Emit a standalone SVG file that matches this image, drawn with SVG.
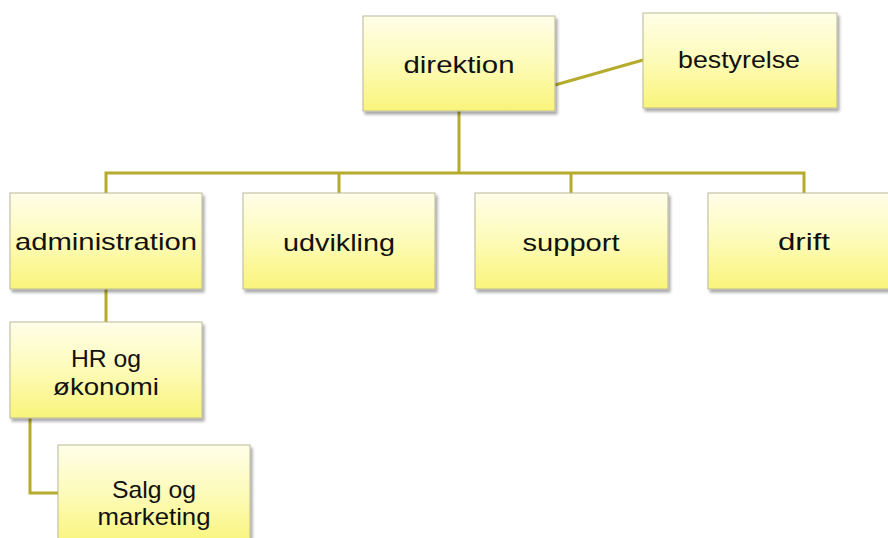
<svg xmlns="http://www.w3.org/2000/svg" width="888" height="538" viewBox="0 0 888 538">
<defs>
<linearGradient id="g" x1="0" y1="0" x2="0" y2="1">
<stop offset="0" stop-color="#fffee8"/>
<stop offset="0.5" stop-color="#fdfbb8"/>
<stop offset="1" stop-color="#f9f47a"/>
</linearGradient>
<filter id="sh" x="-10%" y="-10%" width="130%" height="130%">
<feGaussianBlur in="SourceAlpha" stdDeviation="1.5"/>
<feOffset dx="1.5" dy="2.5" result="b"/>
<feComponentTransfer><feFuncA type="linear" slope="0.35"/></feComponentTransfer>
<feMerge><feMergeNode/><feMergeNode in="SourceGraphic"/></feMerge>
</filter>
<style>
.box{fill:url(#g);stroke:#b9b79a;stroke-width:1;filter:url(#sh)}
.t{font-family:"Liberation Sans",Arial,sans-serif;font-size:24px;fill:#111;text-anchor:middle}
.c{fill:none;stroke:#b5ab2c;stroke-width:3}
</style>
</defs>
<rect width="888" height="538" fill="#fff"/>
<g id="connectors">
<line class="c" x1="555" y1="85" x2="643" y2="60"/>
<polyline class="c" points="459,111 459,173"/>
<polyline class="c" points="106,193 106,173 804,173 804,193"/>
<line class="c" x1="339" y1="173" x2="339" y2="193"/>
<line class="c" x1="571" y1="173" x2="571" y2="193"/>
<line class="c" x1="106" y1="289" x2="106" y2="322"/>
<polyline class="c" points="30,418 30,493 58,493"/>
</g>
<g id="direktion"><rect class="box" x="363" y="16" width="192" height="95"/><text class="t" x="459" y="73" textLength="111" lengthAdjust="spacingAndGlyphs">direktion</text></g>
<g id="bestyrelse"><rect class="box" x="643" y="13" width="194" height="95"/><text class="t" x="739" y="68" textLength="122" lengthAdjust="spacingAndGlyphs">bestyrelse</text></g>
<g id="administration"><rect class="box" x="10" y="193" width="192" height="96"/><text class="t" x="106" y="250" textLength="182" lengthAdjust="spacingAndGlyphs">administration</text></g>
<g id="udvikling"><rect class="box" x="243" y="193" width="192" height="96"/><text class="t" x="339" y="251" textLength="112" lengthAdjust="spacingAndGlyphs">udvikling</text></g>
<g id="support"><rect class="box" x="475" y="193" width="193" height="96"/><text class="t" x="571" y="251" textLength="97" lengthAdjust="spacingAndGlyphs">support</text></g>
<g id="drift"><rect class="box" x="708" y="193" width="192" height="96"/><text class="t" x="804" y="250" textLength="52" lengthAdjust="spacingAndGlyphs">drift</text></g>
<g id="hr"><rect class="box" x="10" y="322" width="192" height="96"/><text class="t" x="106" y="367" textLength="70" lengthAdjust="spacingAndGlyphs">HR og</text><text class="t" x="106" y="395" textLength="106" lengthAdjust="spacingAndGlyphs">økonomi</text></g>
<g id="salg"><rect class="box" x="58" y="445" width="192" height="100"/><text class="t" x="154" y="498" textLength="84" lengthAdjust="spacingAndGlyphs">Salg og</text><text class="t" x="154" y="525" textLength="113" lengthAdjust="spacingAndGlyphs">marketing</text></g>
</svg>
